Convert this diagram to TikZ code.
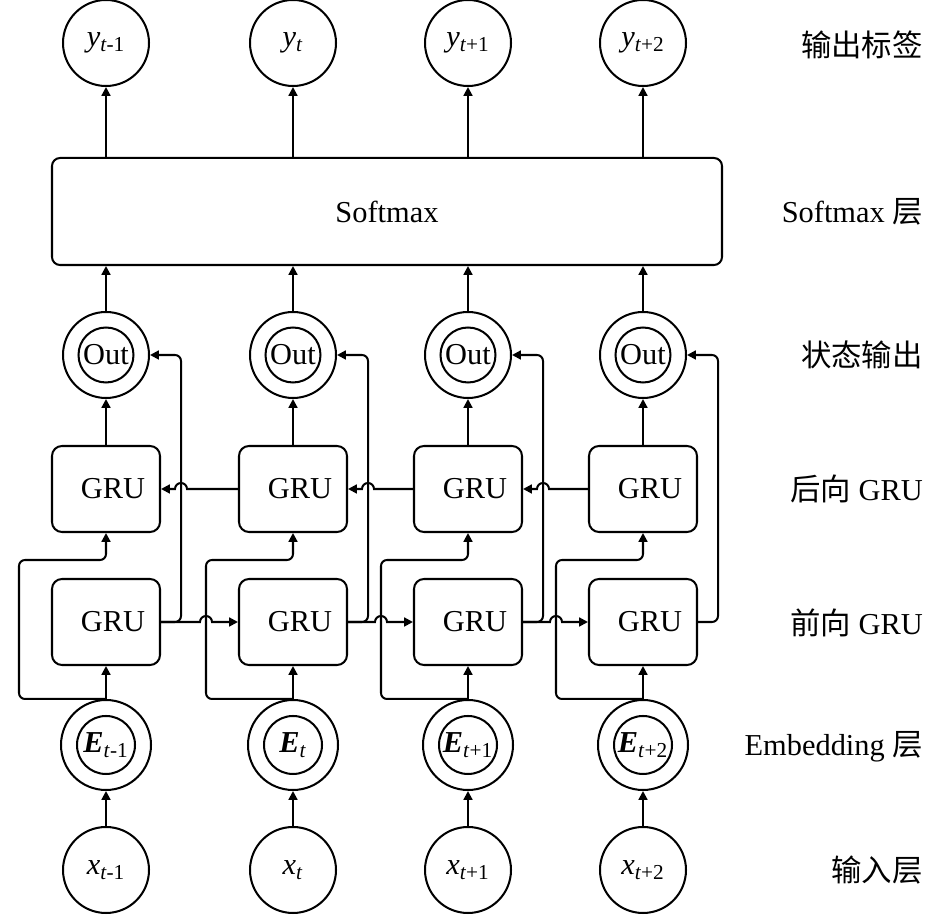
\documentclass[tikz,border=0pt]{standalone}
\usepackage{fontspec}
\setmainfont{Liberation Serif}
\newfontfamily\cjk{Noto Sans CJK SC}
\usetikzlibrary{arrows.meta,calc}

\tikzset{
  every node/.style={font=\fontsize{17.3}{20}\selectfont},
  unit/.style={draw, circle, line width=1.15pt, minimum size=1.72cm, inner sep=0pt},
  core/.style={draw, circle, line width=1.15pt, minimum size=1.1cm, inner sep=0pt},
  grubox/.style={draw, rounded corners=0.2cm, line width=1.15pt, minimum width=2.16cm, minimum height=1.72cm},
  arr/.style={line width=1.15pt, -{Triangle[length=5pt,width=5pt]}},
  layer/.style={anchor=east},
}
\newcommand{\seq}[2]{\textit{#1}\textsubscript{\textit{t}#2}}
\newcommand{\emb}[1]{\textbf{\textit{E}}\textsubscript{\textit{t}#1}}

\begin{document}
\begin{tikzpicture}
    \useasboundingbox (0,0) rectangle (18.9,18.3);

    % one column per time step
    \foreach \i/\cx/\s in {1/2.12/-1, 2/5.86/{}, 3/9.36/+1, 4/12.86/+2} {
        \node[unit] (x\i) at (\cx,0.9) {\seq{x}{\s}};
        \node[unit, minimum size=1.8cm] (e\i) at (\cx,3.4) {};
        \node[core, minimum size=1.16cm] (ein\i) at (e\i) {\emb{\s}};
        \node[grubox] (gf\i) at (\cx,5.86) {\hspace*{0.28cm}GRU};
        \node[grubox] (gb\i) at (\cx,8.52) {\hspace*{0.28cm}GRU};
        \node[unit] (out\i) at (\cx,11.2) {};
        \node[core] (oin\i) at (out\i) {Out};
        \node[unit] (y\i) at (\cx,17.44) {\seq{y}{\s}};
        \coordinate (ev\i) at ($(e\i.north)+(-1.74,0)$);
        \coordinate (fv\i) at ($(gf\i.east)+(0.4,0)$);
    }

    % softmax layer
    \node[draw, rounded corners=0.16cm, line width=1.15pt, minimum width=13.4cm, minimum height=2.14cm] (sm) at (7.74,14.07) {Softmax};

    % layer names
    \node[layer] (l1) at (18.58,17.4) {{\cjk 输出标签}};
    \node[layer] (l2) at (18.58,14.06) {Softmax {\cjk 层}};
    \node[layer] (l3) at (18.58,11.2) {{\cjk 状态输出}};
    \node[layer] (l4) at (18.58,8.52) {{\cjk 后向} GRU};
    \node[layer] (l5) at (18.58,5.84) {{\cjk 前向} GRU};
    \node[layer] (l6) at (18.58,3.36) {Embedding {\cjk 层}};
    \node[layer] (l7) at (18.58,0.9) {{\cjk 输入层}};

    % vertical connections
    \foreach \i in {1,...,4} {
        \draw[arr] (x\i) -- (e\i);
        \draw[arr] (e\i) -- (gf\i);
        \draw[arr, rounded corners=0.12cm] (e\i.north) -- (ev\i) |- ($(gb\i.south)+(0,-0.54)$) -- (gb\i.south);
        \draw[arr] (gb\i) -- (out\i);
        \draw[arr, rounded corners=0.12cm] (gf\i.east) -- (fv\i) |- (out\i.east);
        \draw[arr] (out\i) -- (out\i |- sm.south);
        \draw[arr] (y\i |- sm.north) -- (y\i);
    }

    % recurrent connections with jumps
    \foreach \i/\j in {1/2, 2/3, 3/4} {
        \draw[arr] (gf\i.east) -- ($(gf\i.east -| ev\j)+(-0.12,0)$) arc[start angle=180, end angle=0, radius=0.12] -- (gf\j.west);
        \draw[arr] (gb\j.west) -- ($(gb\j.west -| fv\i)+(0.12,0)$) arc[start angle=0, end angle=180, radius=0.12] -- (gb\i.east);
    }
\end{tikzpicture}
\end{document}
